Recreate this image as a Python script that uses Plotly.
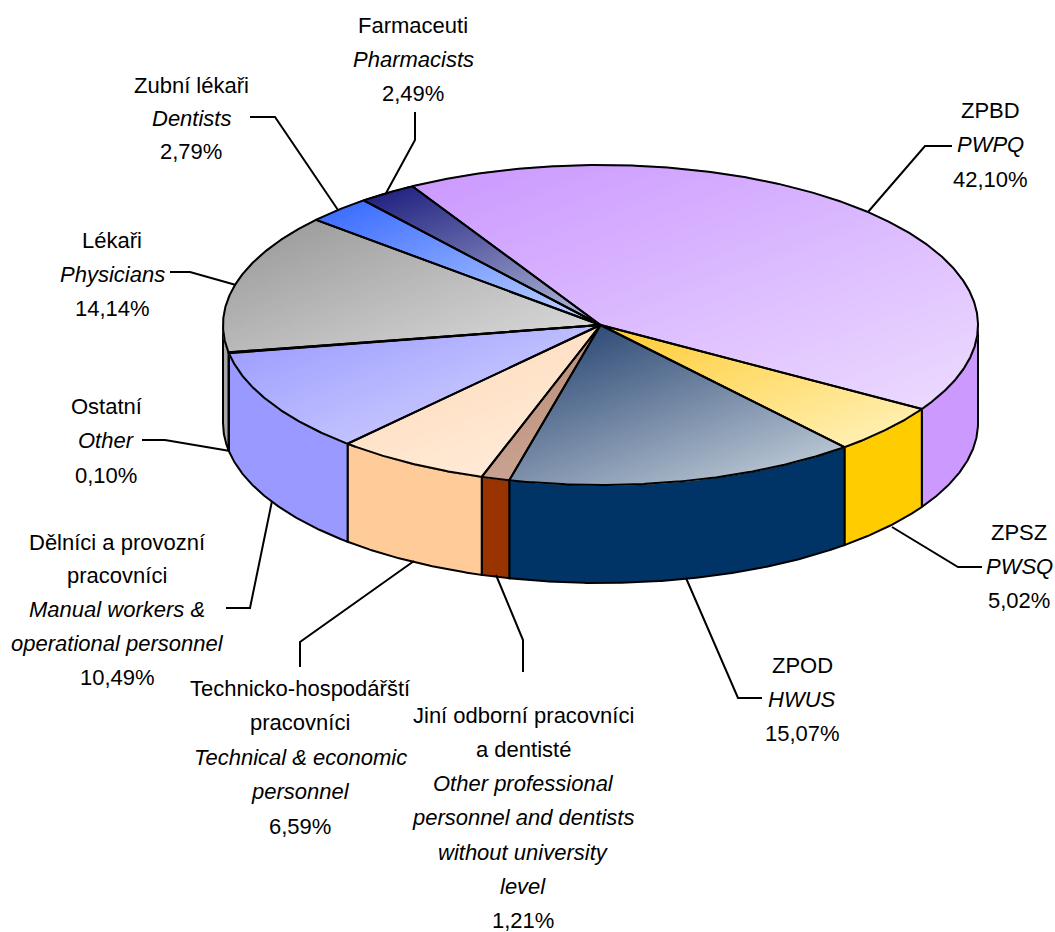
import numpy as np
import plotly.graph_objects as go

# ---- data ----
names_cz = ["ZPBD", "ZPSZ", "ZPOD", "Jiní odborní pracovníci|a dentisté",
            "Technicko-hospodářští|pracovníci", "Dělníci a provozní|pracovníci",
            "Ostatní", "Lékaři", "Zubní lékaři", "Farmaceuti"]
names_en = ["PWPQ", "PWSQ", "HWUS",
            "Other professional|personnel and dentists|without university|level",
            "Technical & economic|personnel", "Manual workers &|operational personnel",
            "Other", "Physicians", "Dentists", "Pharmacists"]
values = [42.10, 5.02, 15.07, 1.21, 6.59, 10.49, 0.10, 14.14, 2.79, 2.49]

# ---- styles ----
wall_colors = ["#CC99FF", "#FFCC00", "#003366", "#993300", "#FFCC99",
               "#9999FF", "#A6A6A6", "#A6A6A6", "#3366FF", "#000080"]
grad_start = ["#CA97FF", "#FFCB30", "#1C3A6A", "#B88670", "#FFD8B4",
              "#9898FF", "#969696", "#969696", "#3366FF", "#1A1A7C"]
grad_stop = ["#ECDCFF", "#FFF3C0", "#CCD7E0", "#CDA999", "#FFEEDF",
             "#DADAFF", "#DEDEDE", "#DEDEDE", "#C6D8FF", "#B8C0DC"]

# ---- geometry of the tilted pie (in page pixels) ----
CX, CY, RX, RY, DEPTH = 600.5, 325.0, 377.5, 160.0, 98.0
START_DEG = -119.9
GRAD = np.array([0.35, 0.94])
BANDS = 90

# ---- label layout: centre x, first-line y, line height, leader polyline ----
label_pos = [(990, 110, 34.5), (1019, 532, 34), (802, 665, 34), (523, 715, 34.3),
             (300, 688, 34.5), (117, 542, 33.8), (106, 406, 34.5), (112, 240, 34),
             (191, 85, 33), (413, 25, 34)]
leaders = [[(952, 146), (925, 146), (868, 212)],
           [(982, 567), (958, 567), (892, 527)],
           [(762, 698), (738, 698), (686, 578)],
           [(523, 672), (523, 640), (496, 575)],
           [(300, 667), (300, 642), (414, 561)],
           [(226, 608), (250, 608), (272, 501)],
           [(142, 440), (165, 440), (230, 451)],
           [(170, 272), (190, 272), (236, 285)],
           [(250, 117), (275, 117), (338, 210)],
           [(415, 112), (415, 140), (385, 195)]]


def rgb(h):
    return np.array([int(h[i:i + 2], 16) for i in (1, 3, 5)], float)


def clip(poly, d, lim, keep_above):
    """Clip a convex polygon to the half plane p >= lim or p <= lim."""
    out = []
    p = poly @ d - lim
    if not keep_above:
        p = -p
    n = len(poly)
    for i in range(n):
        j = (i + 1) % n
        if p[i] >= 0:
            out.append(poly[i])
        if p[i] * p[j] < 0:
            out.append(poly[i] + (poly[j] - poly[i]) * p[i] / (p[i] - p[j]))
    return np.array(out) if out else np.zeros((0, 2))


def arc(a0, a1, dy=0.0):
    t = np.radians(np.linspace(a0, a1, max(3, int(abs(a1 - a0) * 3))))
    return np.column_stack([CX + RX * np.cos(t), CY + dy + RY * np.sin(t)])


total = sum(values)
edges = START_DEG + np.concatenate([[0], np.cumsum(values)]) * 360.0 / total

fig = go.Figure()


def add_poly(pts, fill, line=None, width=1.0, close=True):
    if close:
        pts = np.vstack([pts, pts[:1]])
    fig.add_trace(go.Scatter(
        x=pts[:, 0], y=pts[:, 1], mode="lines",
        fill="toself" if fill else None, fillcolor=fill,
        line=dict(color=line or fill or "#000", width=width),
        hoverinfo="skip", showlegend=False))


# side walls (only the front half of the rim shows)
for i, col in enumerate(wall_colors):
    a0, a1 = max(edges[i], 0.0), min(edges[i + 1], 180.0)
    if a1 <= a0:
        continue
    top, bot = arc(a0, a1), arc(a0, a1, DEPTH)
    add_poly(np.vstack([top, bot[::-1]]), col, "#000000", 2.0)

# top faces: dark to pale diagonal shading, built from bands
for i in range(len(values)):
    sector = np.vstack([[CX, CY], arc(edges[i], edges[i + 1])])
    x0, x1 = sector[:, 0].min(), sector[:, 0].max()
    y0, y1 = sector[:, 1].min(), sector[:, 1].max()
    pmin, pmax = x0 * GRAD[0] + y0 * GRAD[1], x1 * GRAD[0] + y1 * GRAD[1]
    c0, c1 = rgb(grad_start[i]), rgb(grad_stop[i])
    lims = np.linspace(pmin, pmax, BANDS + 1)
    for b in range(BANDS):
        part = clip(clip(sector, GRAD, lims[b], True), GRAD, lims[b + 1], False)
        if len(part) < 3:
            continue
        c = c0 + (c1 - c0) * (b + 0.5) / BANDS
        col = "rgb(%d,%d,%d)" % tuple(c.round())
        add_poly(part, col, col, 1.5)

# sector outlines
for i in range(len(values)):
    sector = np.vstack([[CX, CY], arc(edges[i], edges[i + 1])])
    add_poly(sector, None, "#000000", 2.0)

# leader lines
for pl in leaders:
    pts = np.array(pl, float)
    add_poly(pts, None, "#000000", 2.0, close=False)

# labels
annotations = []
for i, (cx, y, lh) in enumerate(label_pos):
    lines = names_cz[i].split("|")
    lines += ["<i>%s</i>" % s for s in names_en[i].split("|")]
    lines.append(("%.2f%%" % values[i]).replace(".", ","))
    for k, s in enumerate(lines):
        annotations.append(dict(x=cx, y=y + k * lh, text=s, showarrow=False,
                                xanchor="center", yanchor="middle",
                                font=dict(family="Liberation Sans", size=22, color="#000000")))

fig.update_layout(
    width=1055, height=932, margin=dict(l=0, r=0, t=0, b=0),
    paper_bgcolor="#FFFFFF", plot_bgcolor="#FFFFFF", showlegend=False,
    xaxis=dict(range=[0, 1055], visible=False, fixedrange=True),
    yaxis=dict(range=[932, 0], visible=False, fixedrange=True),
    annotations=annotations)

fig.write_html("out.html", config={"displayModeBar": False},
               post_script="document.body.style.margin='0';document.body.style.overflow='hidden';")
